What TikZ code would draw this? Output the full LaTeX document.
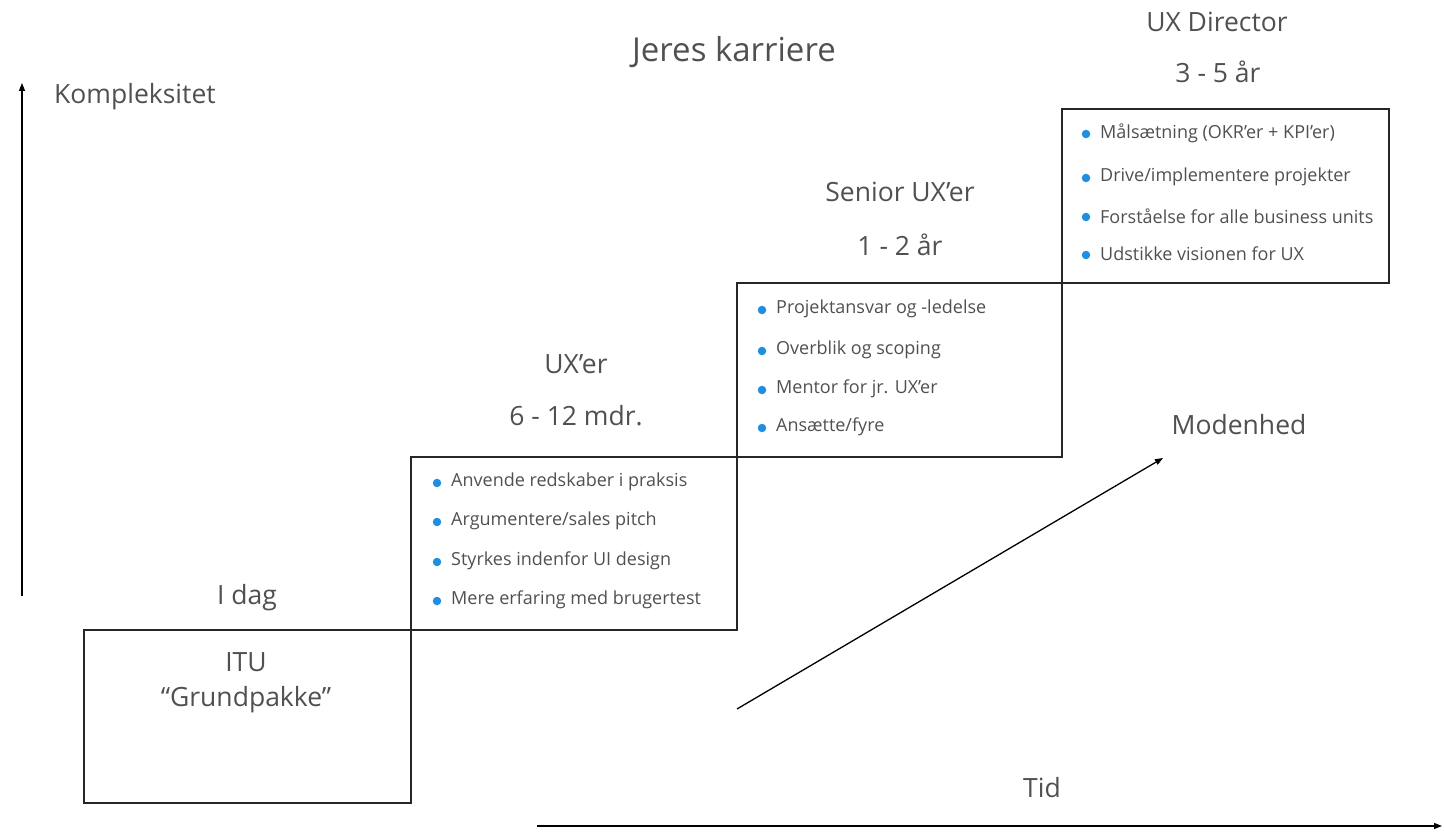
\documentclass[tikz,border=0pt]{standalone}
\usepackage{fontspec}
\setmainfont{Open Sans}
\usetikzlibrary{arrows.meta}
\definecolor{txt}{HTML}{505050}
\definecolor{bul}{HTML}{1E8FE0}
\begin{document}
\begin{tikzpicture}[x=1pt,y=-1pt,
  stepbox/.style={draw=black!85,line width=1.8pt},
  ttl/.style={text=txt,font=\fontsize{26.5}{31}\selectfont,inner sep=0},
  item/.style={text=txt,font=\fontsize{18}{21}\selectfont,anchor=west,inner sep=0},
  dot/.style={circle,fill=bul,inner sep=0,minimum size=8.5pt},
  axis/.style={draw=black,line width=1.3pt,-{Triangle[length=8pt,width=6pt]}}]
\useasboundingbox (0,0) rectangle (1444,832);
% boxes
\draw[stepbox] (84,630) rectangle (411,803);
\draw[stepbox] (411,457) rectangle (737,630);
\draw[stepbox] (737,283) rectangle (1062,457);
\draw[stepbox] (1062,109) rectangle (1389,283);
% axes
\coordinate (ya) at (22,596); \coordinate (yb) at (22,83);
\draw[axis] (ya) -- (yb);
\coordinate (xa) at (537,826); \coordinate (xb) at (1442,826);
\draw[axis] (xa) -- (xb);
\coordinate (da) at (737,709); \coordinate (db) at (1163,458);
\draw[axis] (da) -- (db);
% titles
\node[text=txt,font=\fontsize{33}{38}\selectfont,inner sep=0] (title) at (734,52) {Jeres karriere};
\node[ttl,anchor=west] (komp) at (54,97) {Kompleksitet};
\node[ttl] (idag) at (247,598) {I dag};
\node[ttl] (itu) at (246,662) {ITU};
\node[ttl] (grund) at (246,700) {“Grundpakke”};
\node[ttl] (uxer) at (576,364) {UX’er};
\node[ttl] (mdr) at (576,416) {6 - 12 mdr.};
\node[ttl] (senior) at (900,192) {Senior UX’er};
\node[ttl] (aar1) at (900,245) {1 - 2 år};
\node[ttl] (dir) at (1217,22) {UX Director};
\node[ttl] (aar3) at (1218,72) {3 - 5 år};
\node[ttl] (moden) at (1239,425) {Modenhed};
\node[ttl] (tid) at (1042,788) {Tid};
% box 2 items
\foreach \y/\t [count=\i] in {482/{Anvende redskaber i praksis},521/{Argumentere/sales pitch},561/{Styrkes indenfor UI design},600/{Mere erfaring med brugertest}}{
  \node[dot] (b2d\i) at (437,\y+1) {};
  \node[item] (b2t\i) at (451,\y) {\t};
}
% box 3 items
\foreach \y/\t [count=\i] in {309/{Projektansvar og -ledelse},350/{Overblik og scoping},389/{Mentor for jr. UX’er},427/{Ansætte/fyre}}{
  \node[dot] (b3d\i) at (762,\y+1) {};
  \node[item] (b3t\i) at (776,\y) {\t};
}
% box 4 items
\foreach \y/\t [count=\i] in {133/{Målsætning (OKR’er + KPI’er)},177/{Drive/implementere projekter},216/{Forståelse for alle business units},254/{Udstikke visionen for UX}}{
  \node[dot] (b4d\i) at (1086,\y+1) {};
  \node[item] (b4t\i) at (1100,\y) {\t};
}
\end{tikzpicture}
\end{document}
